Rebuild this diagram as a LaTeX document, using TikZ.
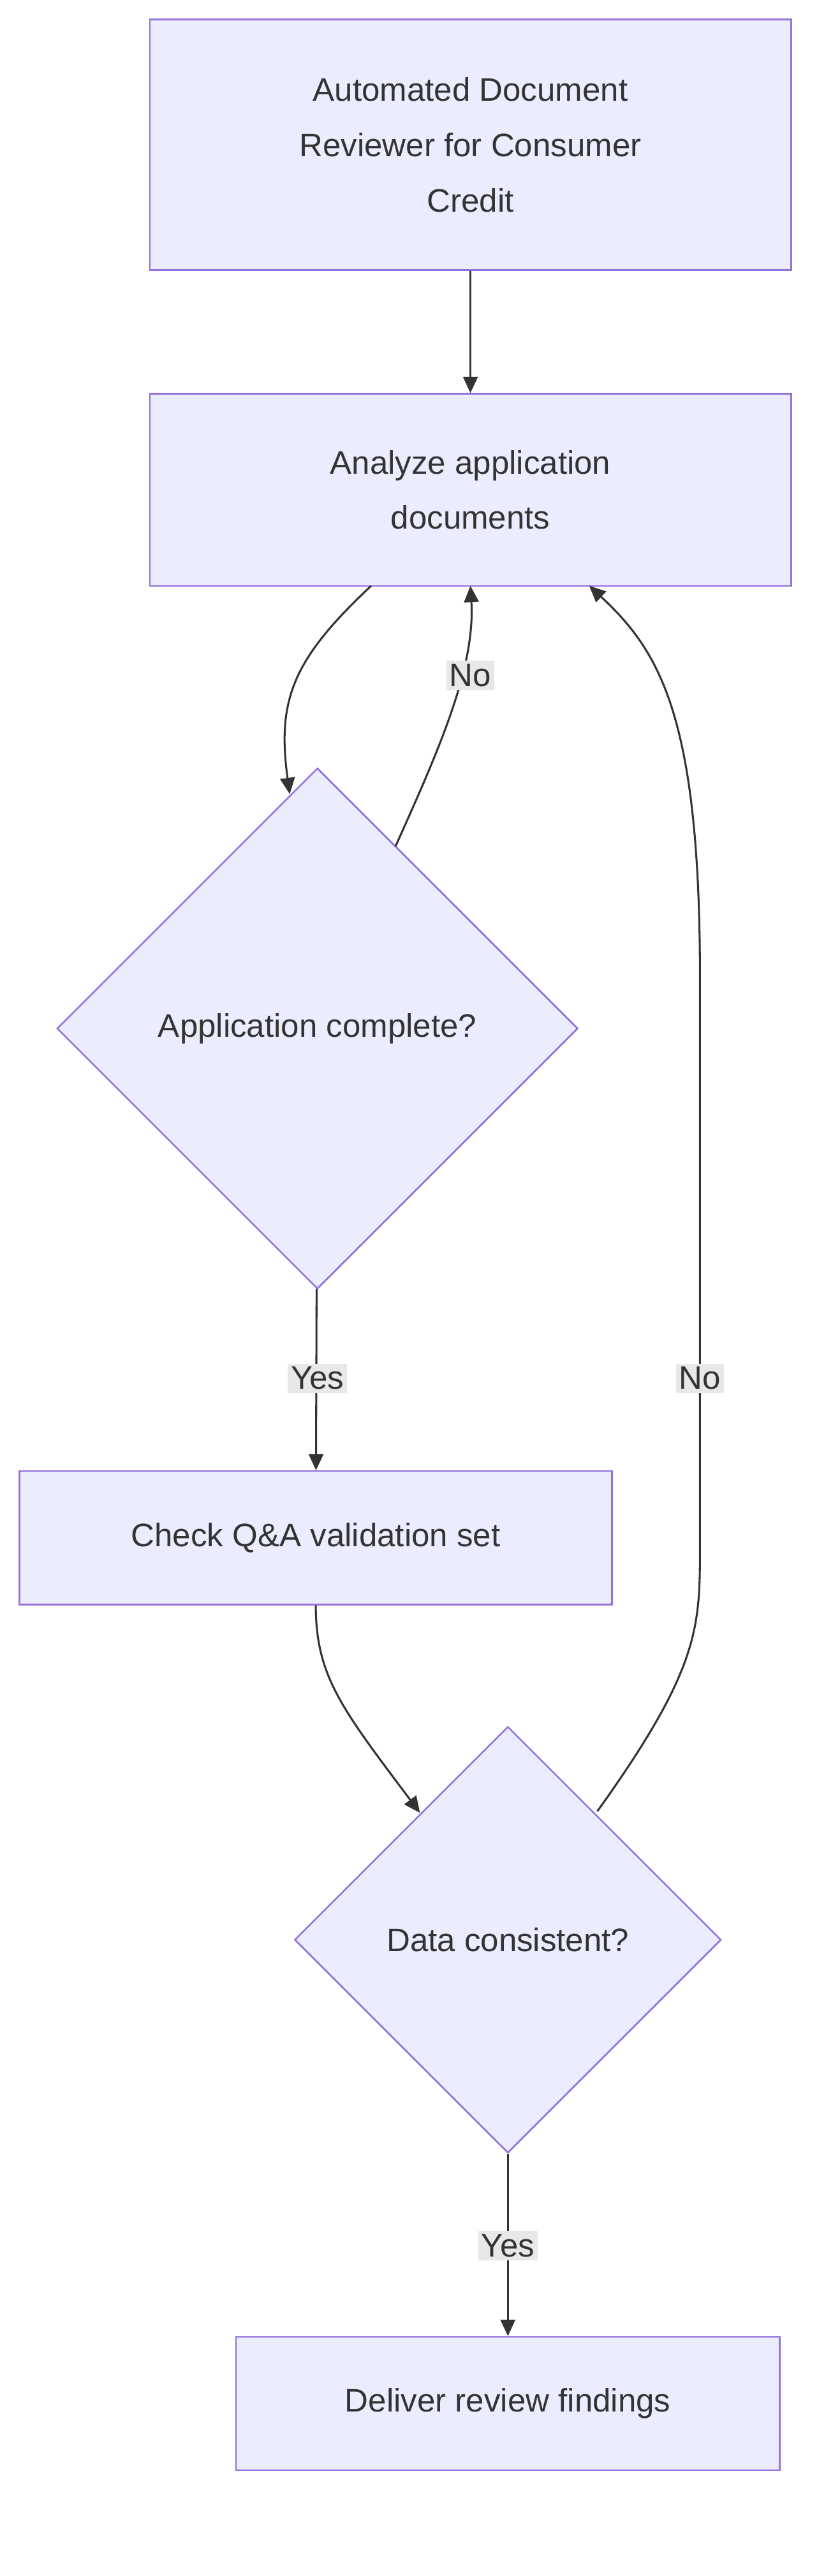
\documentclass[tikz,border=0pt]{standalone}
\usepackage{fontspec}
\setmainfont{Liberation Sans}
\usetikzlibrary{shapes.geometric,arrows.meta}
\definecolor{nfill}{HTML}{ECECFF}
\definecolor{nline}{HTML}{9370DB}
\definecolor{txt}{HTML}{333333}
\definecolor{lbl}{HTML}{E8E8E8}
\begin{document}
\begin{tikzpicture}[x=1pt,y=-1pt,
  box/.style={draw=nline,fill=nfill,line width=1pt,text=txt,font=\fontsize{20}{34}\selectfont,align=center,inner sep=0pt},
  dia/.style={diamond,draw=nline,fill=nfill,line width=1pt,text=txt,font=\fontsize{20}{34}\selectfont,inner sep=0pt,aspect=1},
  edge/.style={draw=txt,line width=1.2pt,-{Triangle[length=10pt,width=9pt]}},
  lab/.style={fill=lbl,text=txt,font=\fontsize{20}{24}\selectfont,inner sep=2pt}]
\useasboundingbox (0,0) rectangle (516,1583);
\node[box,minimum width=394,minimum height=154] (a) at (289,89) {Automated Document\\Reviewer for Consumer\\Credit};
\node[box,minimum width=394,minimum height=118] (b) at (289,301) {Analyze application\\documents};
\node[dia,minimum width=320,minimum height=320] (c) at (195,632) {Application complete?};
\node[box,minimum width=364,minimum height=82] (d) at (194,945) {Check Q\&A validation set};
\node[dia,minimum width=262,minimum height=262] (e) at (312,1192) {Data consistent?};
\node[box,minimum width=334,minimum height=82] (f) at (312,1477) {Deliver review findings};
\coordinate (b1) at (228,360); \coordinate (b2) at (289,360); \coordinate (b3) at (362,360);
\coordinate (c1) at (178,488); \coordinate (c2) at (243,520);
\coordinate (e1) at (258,1114); \coordinate (e2) at (367,1113);
\draw[edge] (a) -- (b);
\draw[edge] (b1) .. controls (180,405) and (170,430) .. (c1);
\draw[edge] (c2) .. controls (270,460) and (292,410) .. (b2);
\draw[edge] (e2) .. controls (430,1025) and (430,1000) .. (430,950) -- (430,600) .. controls (430,440) and (405,400) .. (b3);
\draw[edge] (c) -- (d);
\draw[edge] (d.south) .. controls (194,1030) and (210,1050) .. (e1);
\draw[edge] (e) -- (f);
\node[lab] (l1) at (289,415) {No};
\node[lab] (l2) at (195,847) {Yes};
\node[lab] (l3) at (430,847) {No};
\node[lab] (l4) at (312,1380) {Yes};
\end{tikzpicture}
\end{document}
